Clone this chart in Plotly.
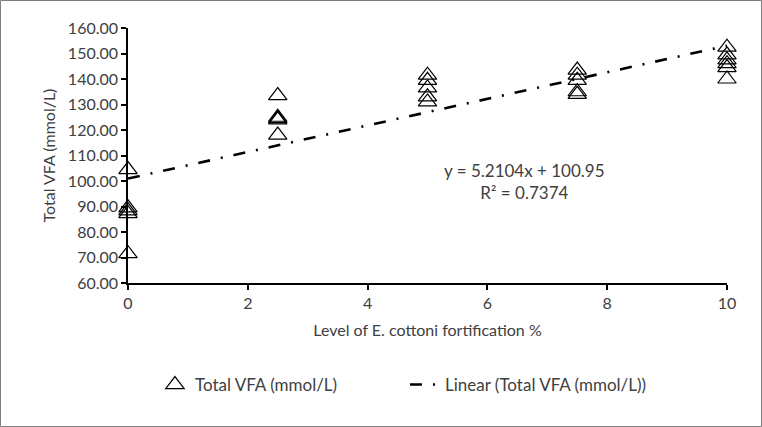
import plotly.graph_objects as go

# Data
levels = [0, 2.5, 5, 7.5, 10]
vfa_0 = [104.5, 89.5, 88.3, 87.2, 71.5]
vfa_25 = [133.5, 125.0, 124.5, 124.0, 118.0]
vfa_5 = [141.5, 139.5, 136.5, 133.0, 131.0]
vfa_75 = [143.5, 141.5, 139.5, 135.0, 134.0]
vfa_10 = [152.5, 149.5, 147.5, 146.0, 144.5, 140.0]

slope = 5.2104
intercept = 100.95
r2 = 0.7374

y_ticks = [60, 70, 80, 90, 100, 110, 120, 130, 140, 150, 160]
x_ticks = [0, 2, 4, 6, 8, 10]

groups = [vfa_0, vfa_25, vfa_5, vfa_75, vfa_10]
xs, ys = [], []
for lv, g in zip(levels, groups):
    xs += [lv] * len(g)
    ys += g

trend_x = [0, 10]
trend_y = [intercept + slope * v for v in trend_x]

FONT = "Lato"
W, H = 762, 427
ML, MR, MT, MB = 128, 35, 28, 144
PW, PH = W - ML - MR, H - MT - MB

fig = go.Figure()
fig.add_trace(go.Scatter(
    x=xs, y=ys, mode="markers", name="Total VFA (mmol/L)",
    marker=dict(symbol="triangle-up-open", size=16, color="black",
                line=dict(width=1.2, color="black")),
    cliponaxis=False,
))
fig.add_trace(go.Scatter(
    x=trend_x, y=trend_y, mode="lines", name="Linear (Total VFA (mmol/L))",
    line=dict(color="black", width=2.6, dash="12px,11px,2px,11px"),
    cliponaxis=False,
))

fig.add_annotation(
    x=6.62, y=99.8, xref="x", yref="y",
    text=f"y = {slope}x + {intercept}<br>R² = {r2}",
    showarrow=False, align="center",
    font=dict(family=FONT, size=17, color="#404040"),
)

# outer chart border
fig.add_shape(type="rect", xref="paper", yref="paper",
              x0=(0.5 - ML) / PW, x1=(W - 0.5 - ML) / PW,
              y0=(PH + MT - (H - 0.5)) / PH, y1=(PH + MT - 0.5) / PH,
              line=dict(color="#7f7f7f", width=1))

fig.update_layout(
    width=W, height=H,
    margin=dict(l=ML, r=MR, t=MT, b=MB),
    paper_bgcolor="white", plot_bgcolor="white",
    font=dict(family=FONT, size=16, color="#404040"),
    showlegend=True,
    legend=dict(orientation="h", x=0.045, y=-0.40, xanchor="left", yanchor="middle",
                font=dict(family=FONT, size=17, color="#404040"),
                entrywidth=205, entrywidthmode="pixels",
                bgcolor="rgba(0,0,0,0)"),
    xaxis=dict(range=[0, 10], tickvals=x_ticks, ticktext=[str(t) for t in x_ticks],
               showgrid=False, zeroline=False, showline=True, linecolor="black",
               linewidth=1.5, ticks="outside", ticklen=5, tickcolor="black", tickwidth=1.5,
               title=dict(text="Level of E. cottoni fortification %", standoff=14,
                          font=dict(family=FONT, size=16, color="#404040")),
               tickfont=dict(family=FONT, size=16, color="#404040")),
    yaxis=dict(range=[60, 160], tickvals=y_ticks,
               ticktext=[f"{t:.2f}" for t in y_ticks],
               showgrid=False, zeroline=False, showline=True, linecolor="black",
               linewidth=1.5, ticks="outside", ticklen=5, tickcolor="black", tickwidth=1.5,
               title=dict(text="Total VFA (mmol/L)", standoff=8,
                          font=dict(family=FONT, size=16, color="#404040")),
               tickfont=dict(family=FONT, size=16, color="#404040")),
)

fig.write_html("out.html")
